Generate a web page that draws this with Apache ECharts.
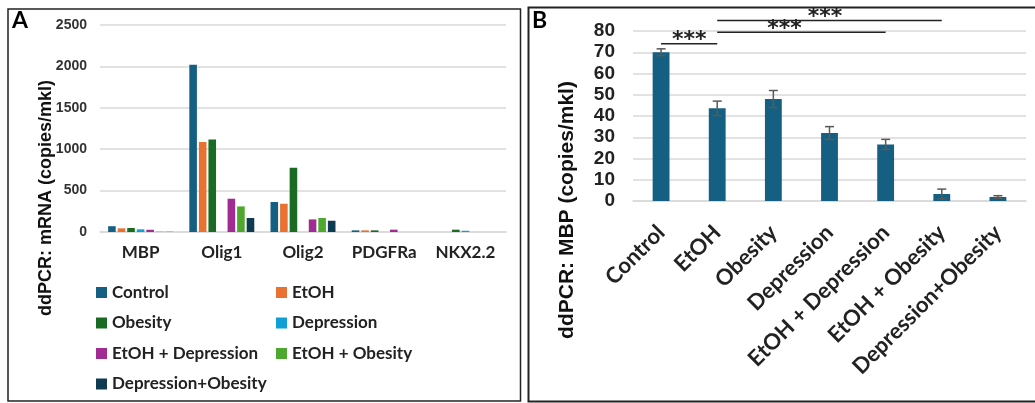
<!DOCTYPE html>
<html>
<head>
<meta charset="utf-8">
<script src="https://cdn.jsdelivr.net/npm/echarts@6/dist/echarts.min.js"></script>
<style>
html,body{margin:0;padding:0;background:#fff;}
#chart{width:1035px;height:403px;}
</style>
</head>
<body>
<div id="chart"></div>
<script>
// ---------- Panel A data ----------
const genes = ['MBP', 'Olig1', 'Olig2', 'PDGFRa', 'NKX2.2'];
const groupNames = ['Control', 'EtOH', 'Obesity', 'Depression', 'EtOH + Depression', 'EtOH + Obesity', 'Depression+Obesity'];
const control    = [70, 2020, 362, 20, 0];
const etoh       = [44, 1086, 341, 20, 0];
const obesity    = [48, 1117, 776, 20, 28];
const depression = [32, 0, 0, 0, 15];
const etohDep    = [27, 402, 152, 28, 0];
const etohOb     = [3, 309, 169, 0, 0];
const depOb      = [2, 169, 136, 0, 0];
const yTicksA = [0, 500, 1000, 1500, 2000, 2500];

// ---------- Panel B data ----------
const mbpGroups = ['Control', 'EtOH', 'Obesity', 'Depression', 'EtOH + Depression', 'EtOH + Obesity', 'Depression+Obesity'];
const mbpValues = [70, 43.6, 48, 32, 26.6, 3.3, 1.9];
const mbpErrors = [1.6, 3.4, 4, 3, 2.4, 2.3, 0.6];
const sigFrom = [0, 1, 1];
const sigTo   = [1, 4, 5];
const sigLevel = [74, 79.4, 84.9];
const sigLabel = ['***', '***', '***'];
const sigTextPos = [0.5, 0.40, 0.48];
const yTicksB = [0, 10, 20, 30, 40, 50, 60, 70, 80];

const colors = ['#156082', '#E97132', '#196B24', '#0F9ED5', '#A02B93', '#4EA72E', '#0E3A52'];
const seriesA = [control, etoh, obesity, depression, etohDep, etohOb, depOb];

const chart = echarts.init(document.getElementById('chart'), null, {renderer: 'canvas'});

const gridColor = '#d9d9d9';

const barSeries = seriesA.map((vals, i) => ({
  name: groupNames[i],
  type: 'bar',
  xAxisIndex: 0,
  yAxisIndex: 0,
  data: vals,
  itemStyle: {color: colors[i]},
  barGap: '26%',
  barCategoryGap: '20%',
  emphasis: {disabled: true}
}));

const legendText = {fontFamily: 'Lato', fontWeight: 'bold', fontSize: 17, color: '#222'};

const option = {
  animation: false,
  backgroundColor: '#ffffff',
  grid: [
    {left: 100, top: 25, width: 406, height: 207},
    {left: 633, top: 31, width: 393, height: 170}
  ],
  xAxis: [
    {
      gridIndex: 0, type: 'category', data: genes,
      axisTick: {show: false},
      axisLine: {lineStyle: {color: gridColor, width: 1.5}},
      axisLabel: {fontFamily: 'Lato', fontWeight: 'bold', fontSize: 17, color: '#222', margin: 12, interval: 0}
    },
    {
      gridIndex: 1, type: 'category', data: mbpGroups,
      axisTick: {show: false},
      axisLine: {lineStyle: {color: gridColor, width: 1.5}},
      axisLabel: {fontFamily: 'Lato', fontWeight: 'bold', fontSize: 22, color: '#222', rotate: 45, margin: 28, interval: 0}
    }
  ],
  yAxis: [
    {
      gridIndex: 0, type: 'value', min: yTicksA[0], max: yTicksA[yTicksA.length - 1], interval: yTicksA[1] - yTicksA[0],
      axisLine: {show: false}, axisTick: {show: false},
      splitLine: {lineStyle: {color: gridColor, width: 1.5}},
      axisLabel: {fontFamily: 'Liberation Sans', fontWeight: 'bold', fontSize: 14, color: '#333', margin: 13,
        formatter: function (v) { return String(v); }}
    },
    {
      gridIndex: 1, type: 'value', min: yTicksB[0], max: yTicksB[yTicksB.length - 1], interval: yTicksB[1] - yTicksB[0],
      axisLine: {show: false}, axisTick: {show: false},
      splitLine: {lineStyle: {color: gridColor, width: 1.5}},
      axisLabel: {fontFamily: 'Liberation Sans', fontWeight: 'bold', fontSize: 19, color: '#222', margin: 18}
    }
  ],
  legend: [
    {
      data: [groupNames[0], groupNames[2], groupNames[4], groupNames[6]],
      orient: 'vertical', left: 91, top: 279,
      itemWidth: 11, itemHeight: 11, itemGap: 13.5, icon: 'rect',
      selectedMode: false,
      textStyle: legendText
    },
    {
      data: [groupNames[1], groupNames[3], groupNames[5]],
      orient: 'vertical', left: 271, top: 279,
      itemWidth: 11, itemHeight: 11, itemGap: 13.5, icon: 'rect',
      selectedMode: false,
      textStyle: legendText
    }
  ],
  graphic: [
    {type: 'rect', shape: {x: 8, y: 9, width: 512.5, height: 392}, style: {fill: 'none', stroke: '#222', lineWidth: 1.5}, silent: true},
    {type: 'rect', shape: {x: 528.5, y: 7.5, width: 520, height: 394}, style: {fill: 'none', stroke: '#222', lineWidth: 2}, silent: true},
    {type: 'text', x: 12, y: 9, style: {text: 'A', font: 'bold 23px Lato', fill: '#000', textVerticalAlign: 'top'}},
    {type: 'text', x: 532, y: 9, style: {text: 'B', font: 'bold 23px Lato', fill: '#000', textVerticalAlign: 'top'}},
    {type: 'text', x: 46, y: 198, rotation: Math.PI / 2, style: {text: 'ddPCR: mRNA (copies/mkl)', font: 'bold 18px "Liberation Sans"', fill: '#111', textAlign: 'center', textVerticalAlign: 'middle'}},
    {type: 'text', x: 567, y: 210, rotation: Math.PI / 2, style: {text: 'ddPCR: MBP (copies/mkl)', font: 'bold 21px "Liberation Sans"', fill: '#111', textAlign: 'center', textVerticalAlign: 'middle'}}
  ],
  series: barSeries.concat([
    {
      name: 'MBP',
      type: 'bar',
      xAxisIndex: 1, yAxisIndex: 1,
      data: mbpValues,
      barWidth: '30%',
      itemStyle: {color: '#156082'},
      emphasis: {disabled: true}
    },
    {
      name: 'MBP error',
      type: 'custom',
      xAxisIndex: 1, yAxisIndex: 1,
      data: mbpValues.map((v, i) => [i, v - mbpErrors[i], v + mbpErrors[i]]),
      encode: {x: 0, y: [1, 2]},
      z: 5,
      renderItem: function (params, api) {
        const lo = api.coord([api.value(0), api.value(1)]);
        const hi = api.coord([api.value(0), api.value(2)]);
        const cw = 4.5;
        const st = {stroke: '#595959', lineWidth: 1.5};
        return {
          type: 'group',
          children: [
            {type: 'line', shape: {x1: lo[0], y1: lo[1], x2: hi[0], y2: hi[1]}, style: st},
            {type: 'line', shape: {x1: hi[0] - cw, y1: hi[1], x2: hi[0] + cw, y2: hi[1]}, style: st},
            {type: 'line', shape: {x1: lo[0] - cw, y1: lo[1], x2: lo[0] + cw, y2: lo[1]}, style: st}
          ]
        };
      }
    },
    {
      name: 'Significance',
      type: 'custom',
      xAxisIndex: 1, yAxisIndex: 1,
      clip: false,
      data: sigFrom.map((f, i) => [f, sigTo[i], sigLevel[i], sigTextPos[i], sigLabel[i]]),
      encode: {x: 0},
      z: 6,
      renderItem: function (params, api) {
        const i = params.dataIndex;
        const p1 = api.coord([api.value(0), api.value(2)]);
        const p2 = api.coord([api.value(1), api.value(2)]);
        const tx = p1[0] + api.value(3) * (p2[0] - p1[0]);
        return {
          type: 'group',
          children: [
            {type: 'line', shape: {x1: p1[0], y1: p1[1], x2: p2[0], y2: p2[1]}, style: {stroke: '#222', lineWidth: 1.5}},
            {type: 'text', x: tx, y: p1[1] - 3, style: {text: sigLabel[i], font: 'bold 22px "DejaVu Sans"', fill: '#222', textAlign: 'center', textVerticalAlign: 'middle'}}
          ]
        };
      }
    }
  ])
};

chart.setOption(option);
</script>
</body>
</html>
